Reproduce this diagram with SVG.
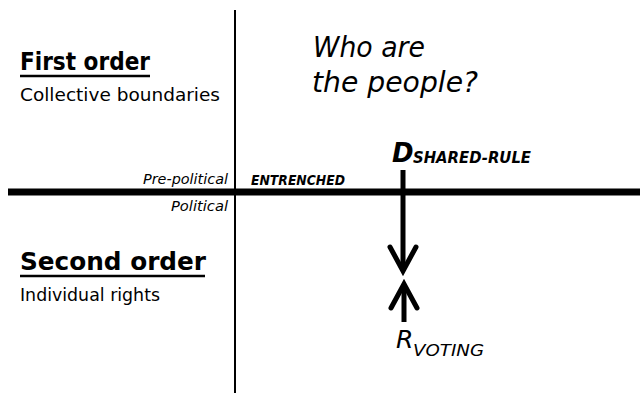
<svg xmlns="http://www.w3.org/2000/svg" width="640" height="393" viewBox="0 0 640 393">
<style>
text{font-family:"DejaVu Sans","Noto Sans",sans-serif;fill:#000}
.h{font-size:25px;font-weight:bold}
.s{font-size:17px}
.q{font-size:28px;font-style:italic}
.sm{font-size:14.5px;font-style:italic}
.bi{font-weight:bold;font-style:italic}
.ln{stroke:#000;fill:none}
</style>
<rect width="640" height="393" fill="#fff"/>
<g id="axes">
<line class="ln" x1="235" y1="10" x2="235" y2="393" stroke-width="2"/>
<line class="ln" x1="8" y1="192" x2="640" y2="192" stroke-width="7"/>
</g>
<g id="first-order">
<text class="h" x="20" y="70" textLength="130" lengthAdjust="spacingAndGlyphs">First order</text>
<line class="ln" x1="20" y1="76" x2="150" y2="76" stroke-width="2.5"/>
<text class="s" x="20" y="101" textLength="200" lengthAdjust="spacingAndGlyphs">Collective boundaries</text>
</g>
<g id="second-order">
<text class="h" x="20" y="270" textLength="186" lengthAdjust="spacingAndGlyphs">Second order</text>
<line class="ln" x1="20" y1="276" x2="205" y2="276" stroke-width="2.5"/>
<text class="s" x="20" y="301" textLength="140" lengthAdjust="spacingAndGlyphs">Individual rights</text>
</g>
<g id="question">
<text class="q" x="313" y="57" textLength="112" lengthAdjust="spacingAndGlyphs">Who are</text>
<text class="q" x="312" y="92" textLength="166" lengthAdjust="spacingAndGlyphs">the people?</text>
</g>
<g id="labels">
<text class="sm" x="228" y="184" text-anchor="end" textLength="85" lengthAdjust="spacingAndGlyphs">Pre-political</text>
<text class="sm" x="228" y="211" text-anchor="end" textLength="57" lengthAdjust="spacingAndGlyphs">Political</text>
<text class="bi" x="251" y="185" font-size="13.5" textLength="94" lengthAdjust="spacingAndGlyphs">ENTRENCHED</text>
</g>
<g id="d-shared-rule">
<text class="bi" x="392" y="162" font-size="26">D</text>
<text class="bi" x="413" y="163" font-size="15" textLength="118" lengthAdjust="spacingAndGlyphs">SHARED-RULE</text>
</g>
<g id="r-voting">
<text x="396" y="348" font-size="25" font-style="italic">R</text>
<text x="413" y="356" font-size="16" font-style="italic" textLength="71" lengthAdjust="spacingAndGlyphs">VOTING</text>
</g>
<g id="connectors">
<line class="ln" x1="403" y1="170" x2="403" y2="271" stroke-width="5"/>
<polyline class="ln" points="390,247 403,271 416,247" stroke-width="5" stroke-linecap="round" stroke-linejoin="miter"/>
<line class="ln" x1="404" y1="284" x2="404" y2="322" stroke-width="5"/>
<polyline class="ln" points="391,308 404,284 417,308" stroke-width="5" stroke-linecap="round" stroke-linejoin="miter"/>
</g>
</svg>
